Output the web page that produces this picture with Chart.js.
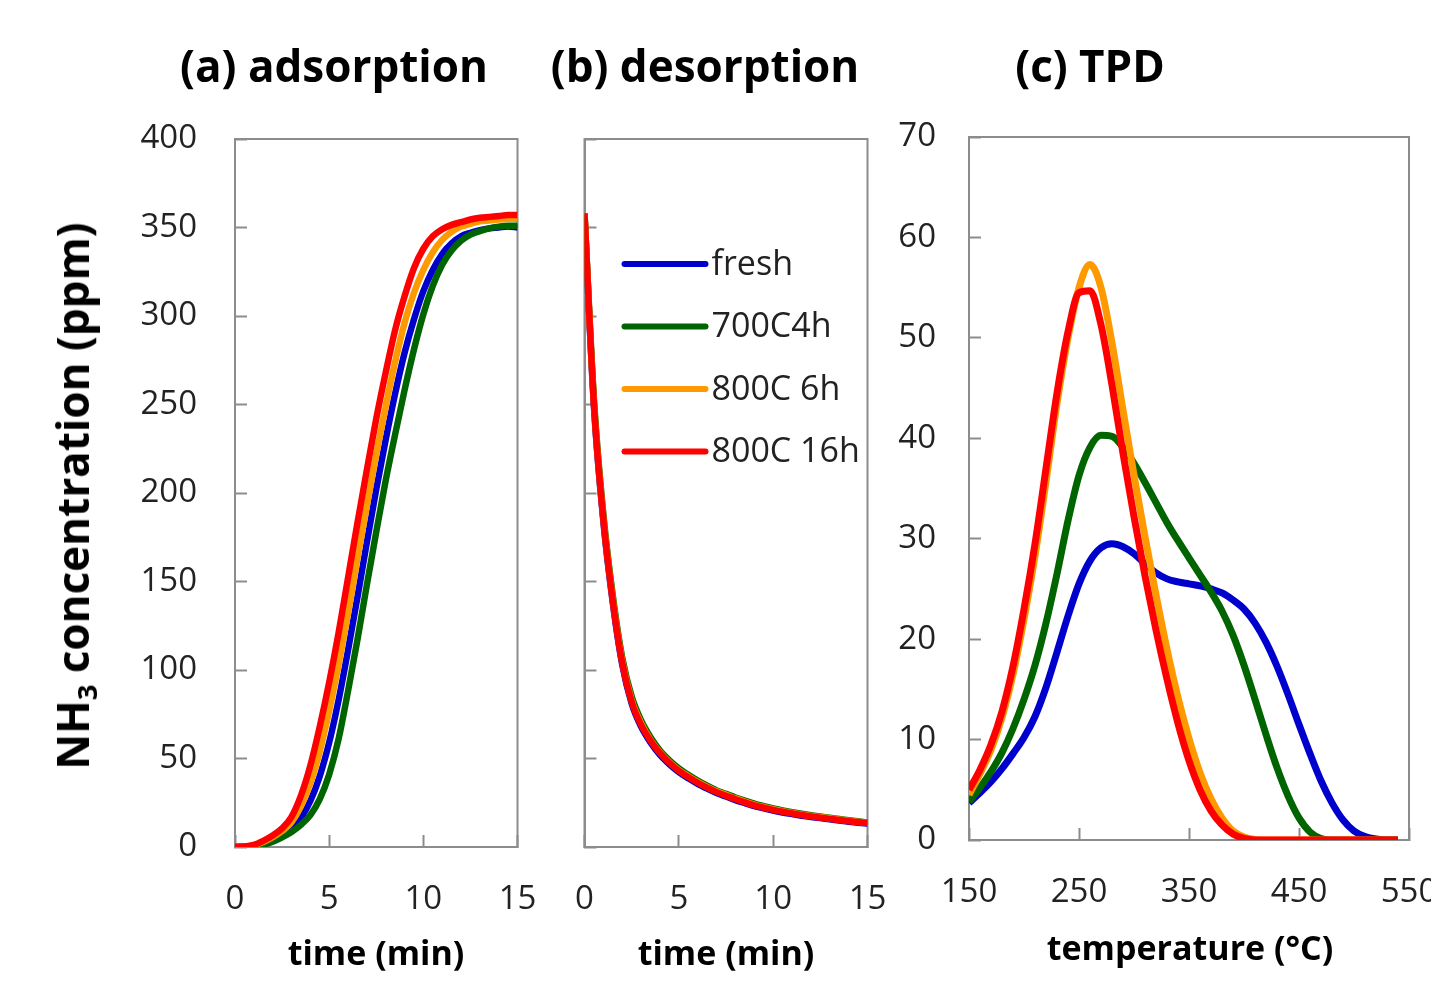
<!DOCTYPE html>
<html>
<head>
<meta charset="utf-8">
<script src="https://cdn.jsdelivr.net/npm/chart.js@4.4.1/dist/chart.umd.min.js"></script>
<style>
  html, body { margin: 0; padding: 0; background: #fff; }
  body { width: 1431px; height: 988px; position: relative; overflow: hidden; font-family: "Open Sans", sans-serif; }
  canvas { position: absolute; left: 0; top: 0; }
  .lbl { position: absolute; transform: translate(-50%, -50%); white-space: nowrap; font-weight: bold; color: #000; line-height: 1; }
  .title { font-size: 44px; }
  .axis { font-size: 34px; }
  #ytitle { transform: translate(-50%, -50%) rotate(-90deg); font-size: 44px; }
  sub { font-size: 0.62em; vertical-align: -0.3em; line-height: 0; }
</style>
</head>
<body>
<canvas id="chartA" width="1431" height="988"></canvas>
<canvas id="chartB" width="1431" height="988"></canvas>
<canvas id="chartC" width="1431" height="988"></canvas>

<div class="lbl title" style="left:334px; top:65px;">(a) adsorption</div>
<div class="lbl title" style="left:705px; top:65px;">(b) desorption</div>
<div class="lbl title" style="left:1090px; top:65px;">(c) TPD</div>
<div class="lbl axis" style="left:376px; top:952px;">time (min)</div>
<div class="lbl axis" style="left:726px; top:952px;">time (min)</div>
<div class="lbl axis" style="left:1190px; top:947px;">temperature (°C)</div>
<div class="lbl" id="ytitle" style="left:72px; top:496px;">NH<sub>3</sub> concentration (ppm)</div>

<script>
// series names + colours
const seriesNames = ['fresh', '700C4h', '800C 6h', '800C 16h'];
const seriesColors = ['#0000cc', '#006400', '#ff9900', '#ff0000'];

// (a) adsorption, time in min
const timeA = [0, 0.5, 1, 1.5, 2, 2.5, 3, 3.5, 4, 4.5, 5, 5.5, 6, 6.5, 7, 7.5, 8, 8.5, 9, 9.5, 10, 10.5, 11, 11.5, 12, 12.5, 13, 13.5, 14, 14.5, 15];
const adsFresh = [0, 0.1, 0.6, 1.8, 3.8, 6.5, 10.5, 16.5, 26, 40, 59, 83, 111, 141, 172, 202, 230, 256, 279, 298, 314, 326, 335, 341, 345, 347, 348.5, 349.5, 350, 350.5, 350];
const ads700 = [0, 0.1, 0.4, 1.3, 3, 5.5, 8.5, 12.5, 18, 27, 41, 61, 88, 117, 148, 178, 207, 233, 258, 281, 301, 317, 329, 337, 342.5, 346, 348, 349.5, 350.5, 351, 351];
const ads800_6 = [0, 0.2, 1, 2.8, 5.5, 9, 14, 23, 36, 54, 77, 103, 132, 163, 193, 222, 249, 274, 296, 313, 326, 336, 343, 347.5, 350.5, 352, 353.5, 354, 354.5, 355, 355];
const ads800_16 = [0, 0.3, 1.2, 3.5, 6.5, 10.5, 17, 29, 46, 68, 93, 121, 152, 183, 213, 242, 268, 292, 311, 327, 338, 345, 349, 351.5, 353, 354.5, 355.5, 356, 356.5, 357, 357];

// (b) desorption
const timeB = [0, 0.5, 1, 1.5, 2, 2.5, 3, 3.5, 4, 4.5, 5, 5.5, 6, 6.5, 7, 7.5, 8, 8.5, 9, 9.5, 10, 10.5, 11, 11.5, 12, 12.5, 13, 13.5, 14, 14.5, 15];
const desFresh = [357, 249, 184, 138, 103, 81, 68, 59, 52, 46.7, 42.3, 38.8, 35.7, 33, 30.5, 28.5, 26.5, 24.8, 23.1, 21.8, 20.6, 19.5, 18.6, 17.7, 17, 16.3, 15.6, 14.9, 14.3, 13.7, 13.2];
const des700 = [358, 253, 188, 142, 107, 85, 71.5, 62, 54.5, 49, 44.5, 40.8, 37.5, 34.6, 32, 30, 28, 26.2, 24.5, 23.1, 21.8, 20.7, 19.7, 18.8, 18, 17.2, 16.5, 15.8, 15.1, 14.5, 13.9];
const des800_6 = [358, 251, 186, 140, 105, 83, 70, 60.5, 53.5, 48, 43.5, 40, 36.8, 34, 31.5, 29.5, 27.5, 25.7, 24, 22.6, 21.4, 20.3, 19.3, 18.4, 17.6, 16.9, 16.2, 15.5, 14.9, 14.3, 13.7];
const des800_16 = [358, 250, 185, 139, 104, 82, 69, 60, 53, 47.5, 43, 39.5, 36.3, 33.5, 31, 29, 27, 25.2, 23.5, 22.2, 21, 19.9, 19, 18.1, 17.3, 16.6, 15.9, 15.2, 14.6, 14, 13.5];

// (c) TPD, temperature in degC
const tempC = [150, 160, 170, 180, 190, 200, 210, 220, 230, 240, 250, 260, 270, 280, 290, 300, 310, 320, 330, 340, 350, 360, 370, 380, 390, 400, 410, 420, 430, 440, 450, 460, 470, 480, 490, 500, 510, 520, 530, 540];
const tpdFresh = [3.7, 4.7, 5.8, 7.1, 8.6, 10.2, 12.3, 15.2, 18.7, 22.3, 25.5, 27.8, 29.1, 29.5, 29.2, 28.5, 27.5, 26.6, 26, 25.7, 25.5, 25.3, 25, 24.6, 23.9, 23, 21.6, 19.7, 17.3, 14.5, 11.5, 8.6, 5.9, 3.7, 2, 0.9, 0.35, 0.1, 0, 0];
const tpd700 = [3.8, 5.2, 6.8, 8.7, 11.1, 14, 17.4, 21.6, 26.5, 31.8, 36.3, 39.1, 40.3, 40.2, 39.1, 37.5, 35.6, 33.6, 31.6, 29.8, 28.1, 26.4, 24.7, 22.8, 20.4, 17.4, 14, 10.5, 7.2, 4.4, 2.2, 0.8, 0.15, 0, 0, 0, 0, 0, 0, 0];
const tpd800_6 = [4.5, 6.6, 9, 12.2, 16.5, 22, 28.3, 35.7, 43.5, 50, 55, 57.3, 55, 49.5, 42.8, 36.3, 30.2, 24.4, 19, 14.2, 10.1, 6.7, 4.1, 2.2, 0.9, 0.3, 0.05, 0, 0, 0, 0, 0, 0, 0, 0, 0, 0, 0, 0, 0];
const tpd800_16 = [5, 7, 9.5, 12.8, 17.3, 23, 29.5, 37, 44.5, 50.6, 54.5, 54.7, 51.3, 45.3, 38.5, 32.2, 26.3, 20.9, 16, 11.6, 7.9, 5, 2.9, 1.5, 0.6, 0.15, 0, 0, 0, 0, 0, 0, 0, 0, 0, 0, 0, 0, 0, 0];

// tick values
const timeTicks = [0, 5, 10, 15];
const ppmTicks = [0, 50, 100, 150, 200, 250, 300, 350, 400];
const tempTicks = [150, 250, 350, 450, 550];
const tpdTicks = [0, 10, 20, 30, 40, 50, 60, 70];

const FONT = '"Open Sans", sans-serif';
const GRAY = '#8c8c8c';
const TXT = '#222';

Chart.defaults.font.family = FONT;
Chart.defaults.animation = false;

function pts(xs, ys) { return xs.map((x, i) => ({ x: x, y: ys[i] })); }

function makeSets(xs, list, width) {
  return list.map((ys, i) => ({
    label: seriesNames[i],
    data: pts(xs, ys),
    borderColor: seriesColors[i],
    borderWidth: width,
    pointRadius: 0,
    cubicInterpolationMode: 'monotone',
    order: 4 - i   // red ends up on top
  }));
}

function axisOpts(tickList, min, max, isX, showLabels, pad, size) {
  return {
    type: 'linear', min: min, max: max,
    afterBuildTicks: s => { s.ticks = tickList.map(v => ({ value: v })); },
    ticks: { display: showLabels, padding: pad, color: TXT, font: { size: 33 }, maxRotation: 0, autoSkip: false },
    grid: { drawOnChartArea: false, drawTicks: true, tickLength: -12, tickColor: GRAY, tickWidth: 2 },
    border: { color: GRAY, width: 2 },
    afterFit: s => {
      if (isX) { s.height = size; s.paddingLeft = 0; s.paddingRight = 0; }
      else { s.width = size; s.paddingTop = 0; s.paddingBottom = 0; }
    }
  };
}

// box round the plot area
const boxPlugin = {
  id: 'box',
  beforeDatasetsDraw(chart) {
    const a = chart.chartArea, ctx = chart.ctx;
    ctx.save();
    ctx.strokeStyle = GRAY;
    ctx.lineWidth = 2;
    ctx.strokeRect(a.left, a.top, a.right - a.left, a.bottom - a.top);
    ctx.restore();
  }
};

// legend inside panel (b)
const legendPlugin = {
  id: 'insideLegend',
  afterDraw(chart) {
    const { ctx, chartArea } = chart;
    ctx.save();
    chart.data.datasets.forEach((ds, i) => {
      const y = chartArea.top + 125 + i * 62.5;
      const x0 = chartArea.left + 40;
      ctx.strokeStyle = ds.borderColor;
      ctx.lineWidth = 6;
      ctx.lineCap = 'round';
      ctx.beginPath();
      ctx.moveTo(x0, y);
      ctx.lineTo(x0 + 81, y);
      ctx.stroke();
      ctx.fillStyle = TXT;
      ctx.font = '34px ' + FONT;
      ctx.textBaseline = 'middle';
      ctx.fillText(ds.label, x0 + 87, y + 1);
    });
    ctx.restore();
  }
};

function build(id, sets, box, xAx, yAx, extra) {
  const yw = 120, xh = 120;
  return new Chart(document.getElementById(id), {
    type: 'line',
    data: { datasets: sets },
    options: {
      responsive: false,
      devicePixelRatio: 1,
      layout: { padding: { left: box.l - yw, top: box.t, right: 1431 - box.r, bottom: 988 - box.b - xh } },
      plugins: { legend: { display: false }, tooltip: { enabled: false } },
      scales: { x: xAx, y: yAx }
    },
    plugins: [boxPlugin].concat(extra || [])
  });
}

build('chartA',
  makeSets(timeA, [adsFresh, ads700, ads800_6, ads800_16], 6.5),
  { l: 235, t: 139, r: 517.5, b: 847 },
  axisOpts(timeTicks, 0, 15, true, true, 45, 120),
  axisOpts(ppmTicks, 0, 400, false, true, 50, 120));

build('chartB',
  makeSets(timeB, [desFresh, des700, des800_6, des800_16], 6.5),
  { l: 584.5, t: 139, r: 867.5, b: 847 },
  axisOpts(timeTicks, 0, 15, true, true, 45, 120),
  axisOpts(ppmTicks, 0, 400, false, false, 50, 120),
  [legendPlugin]);

build('chartC',
  makeSets(tempC, [tpdFresh, tpd700, tpd800_6, tpd800_16], 7),
  { l: 969, t: 137, r: 1409, b: 840 },
  axisOpts(tempTicks, 150, 550, true, true, 45, 120),
  axisOpts(tpdTicks, 0, 70, false, true, 45, 120));
</script>
</body>
</html>
